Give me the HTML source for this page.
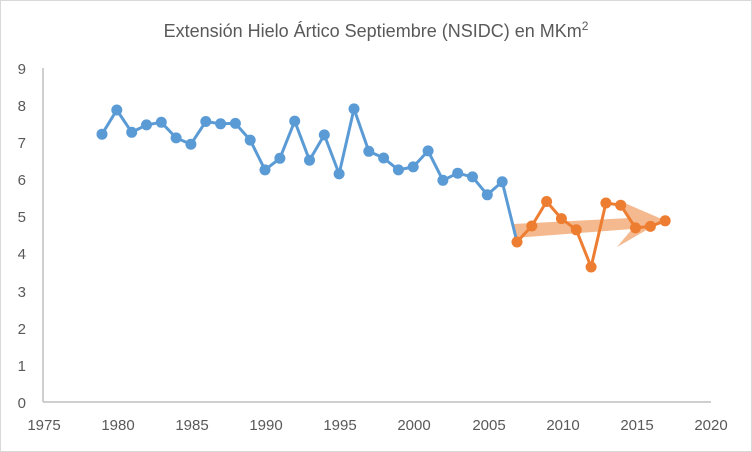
<!DOCTYPE html>
<html><head><meta charset="utf-8"><style>
html,body{margin:0;padding:0;background:#fff;}
svg{display:block;font-family:"Liberation Sans",sans-serif;}
</style></head><body>
<svg width="752" height="452" viewBox="0 0 752 452" xmlns="http://www.w3.org/2000/svg">
<rect x="0.5" y="0.5" width="751" height="451" fill="#fff" stroke="#d9d9d9"/>
<text x="376" y="37" text-anchor="middle" font-size="18" fill="#595959">Extensión Hielo Ártico Septiembre (NSIDC) en MKm<tspan dy="-7" font-size="12">2</tspan></text>
<g font-size="15" fill="#595959" text-anchor="end">
<text x="26" y="408">0</text><text x="26" y="371">1</text><text x="26" y="334">2</text><text x="26" y="297">3</text><text x="26" y="259">4</text><text x="26" y="222">5</text><text x="26" y="185">6</text><text x="26" y="148">7</text><text x="26" y="111">8</text><text x="26" y="74">9</text>
</g>
<g font-size="15" fill="#595959" text-anchor="middle">
<text x="44" y="430">1975</text><text x="118" y="430">1980</text><text x="192" y="430">1985</text><text x="266" y="430">1990</text><text x="340" y="430">1995</text><text x="414" y="430">2000</text><text x="489" y="430">2005</text><text x="563" y="430">2010</text><text x="637" y="430">2015</text><text x="711" y="430">2020</text>
</g>
<line x1="43" y1="68" x2="43" y2="402" stroke="#bfbfbf" stroke-width="1.5"/>
<line x1="43" y1="402" x2="711" y2="402" stroke="#bfbfbf" stroke-width="1.5"/>
<polygon points="513,224 630,218 620,201 664,220 617,247 632,229 514,238" fill="#f4b183" opacity="0.9"/>
<polyline fill="none" stroke="#5b9bd5" stroke-width="3" stroke-linejoin="round" points="
102,134.2 116.8,110 131.7,132.3 146.5,124.9 161.3,122.3 176.1,137.9 190.9,144.2 205.8,121.5 220.6,123.8 235.4,123.4 250.2,140.1 265.0,169.9 279.9,158.3 294.7,121.1 309.5,160.2 324.3,134.9 339.1,173.9 354,108.9 368.8,151.3 383.6,158 398.4,169.9 413.2,166.9 428.1,150.9 442.9,180.3 457.7,173.2 472.5,176.9 487.3,194.8 502.2,181.8 517,242"/>
<g fill="#5b9bd5">
<circle cx="102" cy="134.2" r="5.5"/><circle cx="116.8" cy="110" r="5.5"/><circle cx="131.7" cy="132.3" r="5.5"/><circle cx="146.5" cy="124.9" r="5.5"/><circle cx="161.3" cy="122.3" r="5.5"/><circle cx="176.1" cy="137.9" r="5.5"/><circle cx="190.9" cy="144.2" r="5.5"/><circle cx="205.8" cy="121.5" r="5.5"/><circle cx="220.6" cy="123.8" r="5.5"/><circle cx="235.4" cy="123.4" r="5.5"/><circle cx="250.2" cy="140.1" r="5.5"/><circle cx="265" cy="169.9" r="5.5"/><circle cx="279.9" cy="158.3" r="5.5"/><circle cx="294.7" cy="121.1" r="5.5"/><circle cx="309.5" cy="160.2" r="5.5"/><circle cx="324.3" cy="134.9" r="5.5"/><circle cx="339.1" cy="173.9" r="5.5"/><circle cx="354" cy="108.9" r="5.5"/><circle cx="368.8" cy="151.3" r="5.5"/><circle cx="383.6" cy="158" r="5.5"/><circle cx="398.4" cy="169.9" r="5.5"/><circle cx="413.2" cy="166.9" r="5.5"/><circle cx="428.1" cy="150.9" r="5.5"/><circle cx="442.9" cy="180.3" r="5.5"/><circle cx="457.7" cy="173.2" r="5.5"/><circle cx="472.5" cy="176.9" r="5.5"/><circle cx="487.3" cy="194.8" r="5.5"/><circle cx="502.2" cy="181.8" r="5.5"/>
</g>
<polyline fill="none" stroke="#ed7d31" stroke-width="3" stroke-linejoin="round" points="
517,242 531.8,226 546.6,201.5 561.4,218.6 576.3,229.8 591.1,267 605.9,203 620.7,205.2 635.5,227.9 650.4,226.4 665.2,220.8"/>
<g fill="#ed7d31">
<circle cx="517" cy="242" r="5.5"/><circle cx="531.8" cy="226" r="5.5"/><circle cx="546.6" cy="201.5" r="5.5"/><circle cx="561.4" cy="218.6" r="5.5"/><circle cx="576.3" cy="229.8" r="5.5"/><circle cx="591.1" cy="267" r="5.5"/><circle cx="605.9" cy="203" r="5.5"/><circle cx="620.7" cy="205.2" r="5.5"/><circle cx="635.5" cy="227.9" r="5.5"/><circle cx="650.4" cy="226.4" r="5.5"/><circle cx="665.2" cy="220.8" r="5.5"/>
</g>
</svg>
</body></html>
